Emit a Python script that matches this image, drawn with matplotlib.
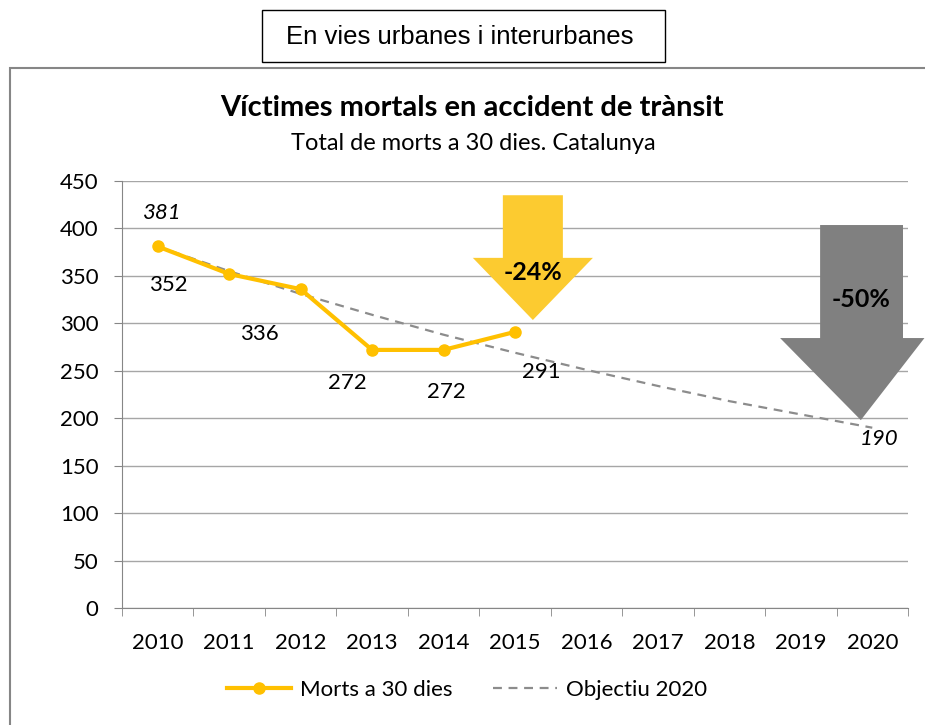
import matplotlib.pyplot as plt
from matplotlib.patches import Rectangle, Polygon

# data
years = ['2010', '2011', '2012', '2013', '2014', '2015',
         '2016', '2017', '2018', '2019', '2020']
morts = [381, 352, 336, 272, 272, 291]
objectiu = [381, 355, 331, 309, 288, 269, 251, 234, 218, 204, 190]
label_offsets = [(3, 24), (-44, -8), (-30, -32), (-18, -24), (2, -30), (19, -29)]

plt.rcParams['font.family'] = ['Lato', 'DejaVu Sans']

fig = plt.figure(figsize=(9.25, 7.25), dpi=100)

# outer frames
fig.patches.append(Rectangle((10/925, -0.1), 1.2, 1 - 68/725 + 0.1, transform=fig.transFigure,
                             fill=False, edgecolor='#868686', linewidth=1.5))
fig.patches.append(Rectangle((262/925, 1 - 62/725), 403/925, 52/725, transform=fig.transFigure,
                             fill=False, edgecolor='black', linewidth=1))
fig.text(460/925, 1 - 37/725, 'En vies urbanes i interurbanes', ha='center', va='center',
         fontsize=18.5, family=['Liberation Sans', 'DejaVu Sans'])

fig.text(472/925, 1 - 108/725, 'Víctimes mortals en accident de trànsit', ha='center', va='center',
         fontsize=21, fontweight='bold')
fig.text(473/925, 1 - 143/725, 'Total de morts a 30 dies. Catalunya', ha='center', va='center',
         fontsize=17)

ax = fig.add_axes([122/925, 1 - 608/725, 786/925, 427/725])
x = list(range(len(years)))

ax.plot(x, objectiu, color='#8C8C8C', linestyle=(0, (4, 3)), linewidth=1.6, zorder=3,
        label='Objectiu 2020')
ax.plot(x[:len(morts)], morts, color='#FFC000', linewidth=3, marker='o', markersize=8,
        zorder=4, label='Morts a 30 dies')

# arrows
ax.add_patch(Polygon([(4.83, 435), (5.67, 435), (5.67, 369), (6.09, 369), (5.25, 303.5),
                      (4.41, 369), (4.83, 369)], closed=True, facecolor='#FCCB30',
                     edgecolor='none', zorder=2))
ax.text(5.25, 354, '-24%', ha='center', va='center', fontsize=18, fontweight='bold')
ax.add_patch(Polygon([(9.27, 403.6), (10.43, 403.6), (10.43, 284.5), (10.73, 284.5), (9.84, 198),
                      (8.71, 284.5), (9.27, 284.5)], closed=True, facecolor='#808080',
                     edgecolor='none', zorder=2, clip_on=False))
ax.text(9.84, 325, '-50%', ha='center', va='center', fontsize=18, fontweight='bold')

# labels
for i, v in enumerate(morts):
    ax.annotate(str(v), (i, v), xytext=label_offsets[i], textcoords='offset points',
                ha='center', va='center', fontsize=16, style='italic' if i == 0 else 'normal')
ax.annotate(str(objectiu[-1]), (10, objectiu[-1]), xytext=(5, -8), textcoords='offset points',
            ha='center', va='center', fontsize=16, style='italic')

ax.set_xlim(-0.5, 10.5)
ax.set_ylim(0, 450)
ax.set_yticks(range(0, 451, 50))
ax.set_xticks(x)
ax.set_xticklabels(years)
ax.set_xticks([i - 0.5 for i in range(len(years) + 1)], minor=True)
ax.tick_params(axis='x', which='major', length=0, pad=18, labelsize=16)
ax.tick_params(axis='x', which='minor', length=6, color='#868686', direction='out')
ax.tick_params(axis='y', length=6, color='#868686', labelsize=16, pad=11)
ax.grid(axis='y', color='#A6A6A6', linewidth=1)
ax.set_axisbelow(True)
for s in ['top', 'right']:
    ax.spines[s].set_visible(False)
for s in ['left', 'bottom']:
    ax.spines[s].set_color('#868686')

h, l = ax.get_legend_handles_labels()
fig.legend(h[::-1], l[::-1], loc='center', bbox_to_anchor=(467/925, 1 - 690/725), ncol=2,
           frameon=False, fontsize=16, handlelength=2.9, handletextpad=0.4, columnspacing=1.8)

fig.savefig('out.png', dpi=100)
